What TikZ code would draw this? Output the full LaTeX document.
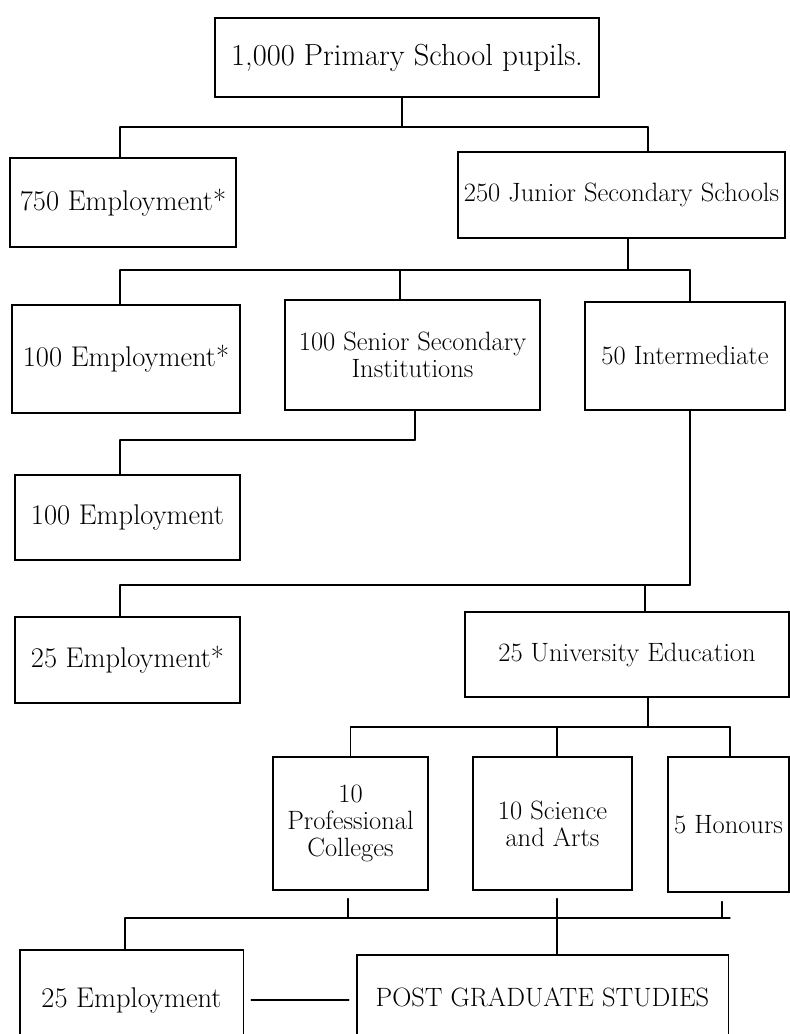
\documentclass[tikz,border=0pt]{standalone}
\usepackage{fontspec}
\begin{document}
\begin{tikzpicture}[x=1pt,y=-1pt,
  line/.style={line width=1.4pt, line cap=round},
  box/.style={draw, line width=1.3pt, rectangle, inner sep=0pt, align=center,
    font=\fontsize{26.5}{27}\selectfont},
  obox/.style={draw=none, rectangle, inner sep=0pt, align=center,
    font=\fontsize{26.5}{27}\selectfont},
  emp/.style={font=\fontsize{28.5}{30}\selectfont}]
\useasboundingbox (0,0) rectangle (790,1034);
\fill[white] (0,0) rectangle (790,1034);
\clip (0,0) rectangle (790,1034);

% boxes
\node[box, minimum width=384pt, minimum height=79pt, font=\fontsize{30.5}{32}\selectfont] (top) at (407,57.5) {1,000 Primary School pupils.};
\node[box, emp, minimum width=226pt, minimum height=89pt] (e750) at (123,202.5) {750 Employment*};
\node[box, minimum width=327pt, minimum height=86pt] (jun) at (621.5,195) {250 Junior Secondary Schools};
\node[box, emp, minimum width=228pt, minimum height=108pt] (e100s) at (126,359) {100 Employment*};
\node[box, minimum width=255pt, minimum height=110pt] (sen) at (412.5,355) {100 Senior Secondary\\Institutions};
\node[box, minimum width=200pt, minimum height=108pt] (int) at (685,356) {50 Intermediate};
\node[box, emp, minimum width=225pt, minimum height=85pt] (e100) at (127.5,517.5) {100 Employment};
\node[box, emp, minimum width=225pt, minimum height=86pt] (e25s) at (127.5,660) {25 Employment*};
\node[box, minimum width=324pt, minimum height=85pt] (uni) at (627,654.5) {25 University Education};
\node[box, minimum width=155pt, minimum height=133pt] (prof) at (350.5,823.5) {10\\Professional\\Colleges};
\node[box, minimum width=159pt, minimum height=133pt] (sci) at (552.5,823.5) {10 Science\\and Arts};
\node[box, minimum width=121pt, minimum height=135pt] (hon) at (728.5,824.5) {5 Honours};
\node[obox, emp, minimum width=223pt, minimum height=100pt] (e25b) at (131.5,1000) {25 Employment};
\node[obox, minimum width=371pt, minimum height=84pt] (pg) at (542.5,997) {POST GRADUATE STUDIES};
\draw[line] (e25b.south west) -- (e25b.north west) -- (e25b.north east) -- (e25b.south east);
\draw[line] (pg.south west) -- (pg.north west) -- (pg.north east) -- (pg.south east);

% bus levels
\coordinate (b1) at (0,127);
\coordinate (b2) at (0,270);
\coordinate (b3) at (0,440);
\coordinate (b4) at (0,585);
\coordinate (b5) at (0,727);
\coordinate (b6) at (0,918);

% level 1
\draw[line] ([xshift=-5pt]top.south) -- ([xshift=-5pt]top.south |- b1);
\draw[line] ([xshift=-3pt]e750.north |- b1) -- ([xshift=26.5pt]jun.north |- b1);
\draw[line] ([xshift=-3pt]e750.north |- b1) -- ([xshift=-3pt]e750.north);
\draw[line] ([xshift=26.5pt]jun.north |- b1) -- ([xshift=26.5pt]jun.north);

% level 2
\draw[line] ([xshift=6.5pt]jun.south) -- ([xshift=6.5pt]jun.south |- b2);
\draw[line] ([xshift=-6pt]e100s.north |- b2) -- ([xshift=5pt]int.north |- b2);
\draw[line] ([xshift=-6pt]e100s.north |- b2) -- ([xshift=-6pt]e100s.north);
\draw[line] ([xshift=-12.5pt]sen.north |- b2) -- ([xshift=-12.5pt]sen.north);
\draw[line] ([xshift=5pt]int.north |- b2) -- ([xshift=5pt]int.north);

% level 3
\draw[line] ([xshift=2.5pt]sen.south) -- ([xshift=2.5pt]sen.south |- b3);
\draw[line] ([xshift=-7.5pt]e100.north |- b3) -- ([xshift=2.5pt]sen.south |- b3);
\draw[line] ([xshift=-7.5pt]e100.north |- b3) -- ([xshift=-7.5pt]e100.north);

% level 4
\draw[line] ([xshift=5pt]int.south) -- ([xshift=5pt]int.south |- b4);
\draw[line] ([xshift=-7.5pt]e25s.north |- b4) -- ([xshift=5pt]int.south |- b4);
\draw[line] ([xshift=-7.5pt]e25s.north |- b4) -- ([xshift=-7.5pt]e25s.north);
\draw[line] ([xshift=18pt]uni.north |- b4) -- ([xshift=18pt]uni.north);

% level 5
\draw[line] ([xshift=21pt]uni.south) -- ([xshift=21pt]uni.south |- b5);
\draw[line] (prof.north |- b5) -- ([xshift=1.5pt]hon.north |- b5);
\draw[line] (prof.north |- b5) -- (prof.north);
\draw[line] ([xshift=4.5pt]sci.north |- b5) -- ([xshift=4.5pt]sci.north);
\draw[line] ([xshift=1.5pt]hon.north |- b5) -- ([xshift=1.5pt]hon.north);

% level 6
\draw[line] ([xshift=-2.5pt,yshift=-8pt]prof.south) -- ([xshift=-2.5pt]prof.south |- b6);
\draw[line] ([xshift=4.5pt,yshift=-8pt]sci.south) -- ([xshift=4.5pt]sci.south |- b6);
\draw[line] ([xshift=-6.5pt,yshift=-9pt]hon.south) -- ([xshift=-6.5pt]hon.south |- b6);
\draw[line] ([xshift=-6.5pt]e25b.north |- b6) -- ([xshift=1.5pt]hon.south |- b6);
\draw[line] ([xshift=-6.5pt]e25b.north |- b6) -- ([xshift=-6.5pt]e25b.north);
\draw[line] ([xshift=14.5pt]pg.north |- b6) -- ([xshift=14.5pt]pg.north);

% side link
\draw[line] ([xshift=8pt]e25b.east) -- ([xshift=-8pt]e25b.east -| pg.west);
\end{tikzpicture}
\end{document}
